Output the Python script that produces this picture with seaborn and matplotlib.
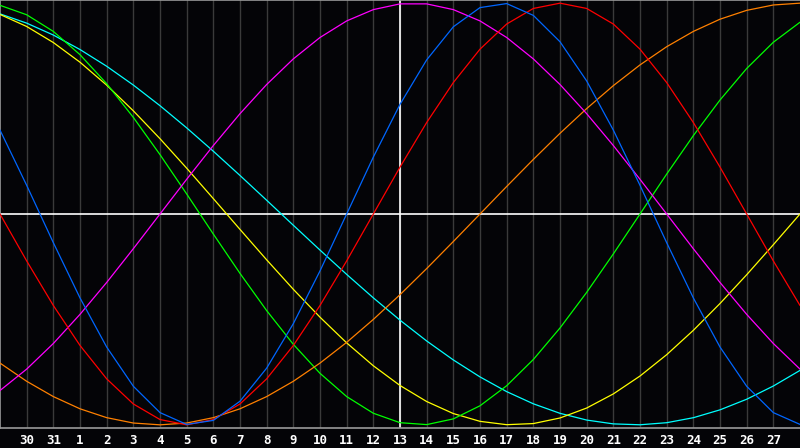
import pandas as pd
import matplotlib
matplotlib.use("Agg")
import matplotlib.pyplot as plt
import seaborn as sns

# day index 0..30 (0 = the 29th of the previous month)
days = list(range(31))
day_labels = ["30", "31", "1", "2", "3", "4", "5", "6", "7", "8", "9", "10", "11", "12",
              "13", "14", "15", "16", "17", "18", "19", "20", "21", "22", "23", "24", "25",
              "26", "27"]
today = 15  # the "13" tick

# values, one per day (-1 .. 1)
physical = [0.398, 0.136, -0.136, -0.398, -0.631, -0.817, -0.942, -0.998, -0.979, -0.888,
            -0.731, -0.520, -0.270, 0.0, 0.270, 0.520, 0.731, 0.888, 0.979, 0.998,
            0.942, 0.817, 0.631, 0.398, 0.136, -0.136, -0.398, -0.631, -0.817, -0.942, -0.998]
emotional = [0.0, -0.2225, -0.4339, -0.6235, -0.7818, -0.9010, -0.9749, -1.0, -0.9749, -0.9010,
             -0.7818, -0.6235, -0.4339, -0.2225, 0.0, 0.2225, 0.4339, 0.6235, 0.7818, 0.9010,
             0.9749, 1.0, 0.9749, 0.9010, 0.7818, 0.6235, 0.4339, 0.2225, 0.0, -0.2225, -0.4339]
intuitive = [-0.8372, -0.7357, -0.6142, -0.4759, -0.3247, -0.1646, 0.0, 0.1646, 0.3247, 0.4759,
             0.6142, 0.7357, 0.8372, 0.9158, 0.9694, 0.9966, 0.9966, 0.9694, 0.9158, 0.8372,
             0.7357, 0.6142, 0.4759, 0.3247, 0.1646, 0.0, -0.1646, -0.3247, -0.4759, -0.6142, -0.7357]
awareness = [-0.7071, -0.7934, -0.8660, -0.9239, -0.9659, -0.9914, -1.0, -0.9914, -0.9659, -0.9239,
             -0.8660, -0.7934, -0.7071, -0.6088, -0.5, -0.3827, -0.2588, -0.1305, 0.0, 0.1305,
             0.2588, 0.3827, 0.5, 0.6088, 0.7071, 0.7934, 0.8660, 0.9239, 0.9659, 0.9914, 1.0]
intellectual = [0.9898, 0.9450, 0.8660, 0.7557, 0.6182, 0.4582, 0.2817, 0.0951, -0.0951, -0.2817,
                -0.4582, -0.6182, -0.7557, -0.8660, -0.9450, -0.9898, -0.9989, -0.9718, -0.9096, -0.8146,
                -0.6901, -0.5406, -0.3717, -0.1893, 0.0, 0.1893, 0.3717, 0.5406, 0.6901, 0.8146, 0.9096]
aesthetic = [0.9465, 0.8894, 0.8133, 0.7199, 0.6112, 0.4894, 0.3572, 0.2174, 0.0730, -0.0730,
             -0.2174, -0.3572, -0.4894, -0.6112, -0.7199, -0.8133, -0.8894, -0.9465, -0.9834, -0.9993,
             -0.9940, -0.9675, -0.9203, -0.8533, -0.7685, -0.6673, -0.5518, -0.4245, -0.2881, -0.1456, 0.0]
spiritual = [0.9492, 0.9053, 0.8488, 0.7801, 0.7008, 0.6116, 0.5137, 0.4085, 0.2977, 0.1827,
             0.0652, -0.0534, -0.1711, -0.2864, -0.3977, -0.5035, -0.6022, -0.6922, -0.7727, -0.8425,
             -0.9002, -0.9454, -0.9773, -0.9955, -0.9997, -0.9899, -0.9662, -0.9289, -0.8786, -0.8159, -0.7418]

curves = {
    "spiritual": (spiritual, "#00ffff"),
    "aesthetic": (aesthetic, "#ffff00"),
    "intellectual": (intellectual, "#00ff00"),
    "awareness": (awareness, "#ff8000"),
    "intuitive": (intuitive, "#ff00ff"),
    "emotional": (emotional, "#ff0000"),
    "physical": (physical, "#0066ff"),
}

sns.set_style("dark")
fig = plt.figure(figsize=(8, 4.48), dpi=100, facecolor="#040407")
ax = fig.add_axes([0, 20 / 448, 1, 428 / 448])
ax.set_facecolor("#040407")

# day grid
for d in days[1:-1]:
    ax.axvline(d, color="#3a3a3a", lw=1, zorder=1)
ax.axhline(0, color="white", lw=1.2, zorder=2)
ax.axvline(today, color="white", lw=1.2, zorder=2)

for name, (vals, col) in curves.items():
    df = pd.DataFrame({"day": days, "value": vals})
    sns.lineplot(data=df, x="day", y="value", color=col, lw=0.9, ax=ax, zorder=3)

ax.set_xlim(0, 30)
ax.set_ylim(-1.015, 1.015)
ax.set_xticks(days[1:-1])
ax.set_xticklabels(day_labels, color="white", fontsize=9, fontweight="bold",
                   family="DejaVu Sans Mono")
ax.tick_params(axis="x", length=0, pad=4)
ax.set_yticks([])
ax.set_xlabel("")
ax.set_ylabel("")
ax.grid(False)
for side in ["top", "bottom", "left"]:
    ax.spines[side].set_visible(True)
    ax.spines[side].set_color("#9a9a9a")
    ax.spines[side].set_linewidth(1.2)
ax.spines["right"].set_visible(False)

fig.savefig("out.png", dpi=100, facecolor=fig.get_facecolor())
